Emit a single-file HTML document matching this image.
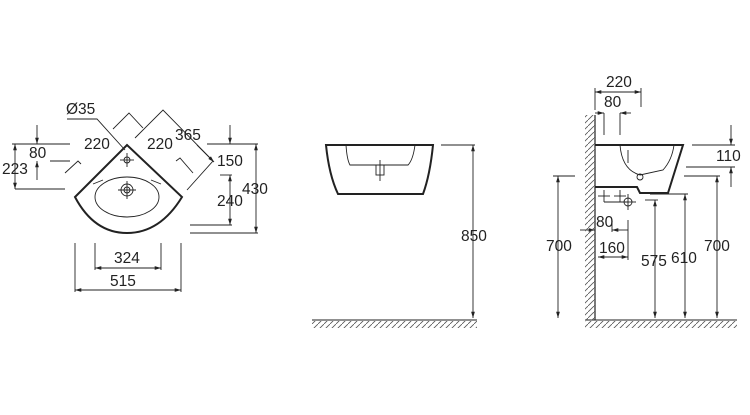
<!DOCTYPE html>
<html><head><meta charset="utf-8"><style>
html,body{margin:0;padding:0;background:#fff}
svg{display:block}
text{font-family:"Liberation Sans",sans-serif;font-size:15.5px;fill:#222}
</style></head><body>
<svg width="750" height="415" viewBox="0 0 750 415" xmlns="http://www.w3.org/2000/svg">
<defs>
<marker id="a" viewBox="0 0 10 10" refX="10" refY="5" markerWidth="7" markerHeight="7" orient="auto-start-reverse"><path d="M0,2 L10,5 L0,8 z" fill="#222"/></marker>
<pattern id="h" width="6" height="6" patternUnits="userSpaceOnUse"><path d="M0,6 L6,0" stroke="#555" stroke-width="0.8"/></pattern>
</defs>
<g stroke="#222" fill="none" stroke-width="0.9">
<path d="M75,197 L127,145 L182,197 Q160,233 127,233 Q94,233 75,197 Z" stroke-width="2"/>
<ellipse cx="127" cy="197" rx="32" ry="20"/>
<line x1="93" y1="184" x2="103" y2="180"/><line x1="151" y1="180" x2="161" y2="184"/>
<circle cx="127" cy="190" r="6"/><circle cx="127" cy="190" r="3"/>
<line x1="118" y1="190" x2="136" y2="190"/><line x1="127" y1="181" x2="127" y2="199"/>
<circle cx="127" cy="160" r="3"/><line x1="120" y1="160" x2="134" y2="160"/><line x1="127" y1="153" x2="127" y2="167"/>
<polyline points="67,119 97,119 125,150"/>
<polyline points="113,129 129,113 143,128"/>
<polyline points="135,138 163,110 213,161 187,190"/>
<line x1="197" y1="145" x2="214" y2="162" marker-end="url(#a)"/>
<polyline points="176,161 180,158 193,173"/>
<polyline points="65,173 78,161 81,164"/>
<line x1="12" y1="144" x2="70" y2="144"/>
<line x1="50" y1="161" x2="70" y2="161"/>
<line x1="37" y1="125" x2="37" y2="144" marker-end="url(#a)"/>
<line x1="37" y1="180" x2="37" y2="161" marker-end="url(#a)"/>
<line x1="15" y1="144" x2="15" y2="189" marker-start="url(#a)" marker-end="url(#a)"/>
<line x1="15" y1="189" x2="65" y2="189"/>
<line x1="207" y1="144" x2="258" y2="144"/>
<line x1="190" y1="233" x2="258" y2="233"/>
<line x1="256" y1="144" x2="256" y2="233" marker-start="url(#a)" marker-end="url(#a)"/>
<line x1="230" y1="125" x2="230" y2="144" marker-end="url(#a)"/>
<line x1="220" y1="175" x2="232" y2="175"/>
<line x1="190" y1="225" x2="232" y2="225"/>
<line x1="230" y1="175" x2="230" y2="225" marker-start="url(#a)" marker-end="url(#a)"/>
<line x1="95" y1="243" x2="95" y2="270"/><line x1="161" y1="243" x2="161" y2="270"/>
<line x1="95" y1="268" x2="161" y2="268" marker-start="url(#a)" marker-end="url(#a)"/>
<line x1="75" y1="243" x2="75" y2="292"/><line x1="181" y1="243" x2="181" y2="292"/>
<line x1="75" y1="290" x2="181" y2="290" marker-start="url(#a)" marker-end="url(#a)"/>
<path d="M326,145 L433,145 Q430,175 423,194 L338,194 Q329,175 326,145 Z" stroke-width="2"/>
<path d="M346,145 Q347,160 350,165 L408,165 Q413,160 415,145"/>
<rect x="376" y="165" width="8" height="10"/><line x1="380" y1="160" x2="380" y2="181"/>
<line x1="441" y1="145" x2="475" y2="145"/>
<line x1="473" y1="145" x2="473" y2="318" marker-start="url(#a)" marker-end="url(#a)"/>
<line x1="312" y1="320" x2="477" y2="320"/>
<line x1="595" y1="115" x2="595" y2="320" stroke-width="1.2"/>
<line x1="585" y1="320" x2="737" y2="320"/>
<path d="M595,145 L683,145 L668,193 L640,193 L637,187 L595,187" stroke-width="2"/>
<path d="M620,145 Q622,170 640,175 L663,170 Q672,160 674,145"/>
<line x1="628" y1="150" x2="628" y2="163"/><circle cx="640" cy="177" r="3"/>
<line x1="595" y1="92" x2="641" y2="92" marker-start="url(#a)" marker-end="url(#a)"/>
<line x1="595" y1="88" x2="595" y2="110"/><line x1="641" y1="88" x2="641" y2="107"/>
<line x1="595" y1="113" x2="604" y2="113" marker-end="url(#a)"/>
<line x1="631" y1="113" x2="620" y2="113" marker-end="url(#a)"/>
<line x1="604" y1="113" x2="604" y2="135"/><line x1="620" y1="113" x2="620" y2="135"/>
<line x1="692" y1="145" x2="735" y2="145"/><line x1="686" y1="167" x2="735" y2="167"/>
<line x1="731" y1="125" x2="731" y2="145" marker-end="url(#a)"/>
<line x1="731" y1="187" x2="731" y2="167" marker-end="url(#a)"/>
<line x1="553" y1="176" x2="575" y2="176"/>
<line x1="558" y1="176" x2="558" y2="318" marker-start="url(#a)" marker-end="url(#a)"/>
<line x1="684" y1="176" x2="720" y2="176"/>
<line x1="717" y1="176" x2="717" y2="318" marker-start="url(#a)" marker-end="url(#a)"/>
<line x1="650" y1="194" x2="688" y2="194"/>
<line x1="685" y1="194" x2="685" y2="318" marker-start="url(#a)" marker-end="url(#a)"/>
<line x1="645" y1="200" x2="658" y2="200"/>
<line x1="655" y1="200" x2="655" y2="318" marker-start="url(#a)" marker-end="url(#a)"/>
<line x1="598" y1="196" x2="610" y2="196"/><line x1="604" y1="190" x2="604" y2="202"/>
<line x1="614" y1="196" x2="626" y2="196"/><line x1="620" y1="190" x2="620" y2="202"/>
<circle cx="628" cy="202" r="4"/><line x1="620" y1="202" x2="636" y2="202"/><line x1="628" y1="194" x2="628" y2="210"/>
<line x1="604" y1="202" x2="628" y2="202"/>
<line x1="580" y1="230" x2="595" y2="230" marker-end="url(#a)"/>
<line x1="628" y1="230" x2="612" y2="230" marker-end="url(#a)"/>
<line x1="612" y1="220" x2="612" y2="232"/>
<line x1="628" y1="220" x2="628" y2="260"/>
<line x1="598" y1="257" x2="628" y2="257" marker-start="url(#a)" marker-end="url(#a)"/>
</g>
<rect x="585" y="115" width="10" height="205" fill="url(#h)"/>
<rect x="312" y="321" width="165" height="7" fill="url(#h)"/>
<rect x="585" y="321" width="152" height="7" fill="url(#h)"/>
<text x="66" y="114">Ø35</text>
<text x="84" y="149">220</text>
<text x="147" y="149">220</text>
<text x="175" y="140">365</text>
<text x="29" y="158">80</text>
<text x="2" y="174">223</text>
<text x="217" y="166">150</text>
<text x="242" y="194">430</text>
<text x="217" y="206">240</text>
<text x="114" y="263">324</text>
<text x="110" y="286">515</text>
<text x="461" y="241">850</text>
<text x="606" y="87">220</text>
<text x="604" y="107">80</text>
<text x="716" y="161">110</text>
<text x="546" y="251">700</text>
<text x="704" y="251">700</text>
<text x="671" y="263">610</text>
<text x="641" y="266">575</text>
<text x="596" y="227">80</text>
<text x="599" y="253">160</text>
</svg>
</body></html>
